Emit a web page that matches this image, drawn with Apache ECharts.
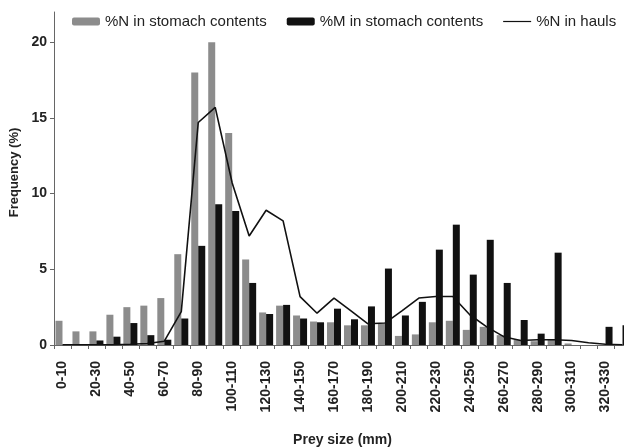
<!DOCTYPE html>
<html>
<head>
<meta charset="utf-8">
<script src="https://cdn.jsdelivr.net/npm/echarts@6/dist/echarts.min.js"></script>
<style>
    html, body { margin: 0; padding: 0; background: #fff; }
    #chart { width: 624px; height: 448px; }
</style>
</head>
<body>
<div id="chart"></div>
<script>
// prey size classes
let sizeClasses = ['0-10', '10-20', '20-30', '30-40', '40-50', '50-60', '60-70', '70-80', '80-90', '90-100',
    '100-110', '110-120', '120-130', '130-140', '140-150', '150-160', '160-170', '170-180', '180-190', '190-200',
    '200-210', '210-220', '220-230', '230-240', '240-250', '250-260', '260-270', '270-280', '280-290', '290-300',
    '300-310', '310-320', '320-330', '330-340']

// %N in stomach contents
let nStomach = [1.6, 0.9, 0.9, 2.0, 2.5, 2.6, 3.1, 6.0, 18.0, 20.0,
    14.0, 5.65, 2.15, 2.6, 1.95, 1.55, 1.5, 1.3, 1.3, 1.4,
    0.6, 0.7, 1.5, 1.6, 1.0, 1.2, 0.65, 0.35, 0.25, 0.35,
    0.1, 0, 0, 0]

// %M in stomach contents
let mStomach = [0, 0, 0.3, 0.55, 1.45, 0.65, 0.35, 1.75, 6.55, 9.3,
    8.85, 4.1, 2.05, 2.65, 1.75, 1.5, 2.4, 1.7, 2.55, 5.05,
    1.95, 2.85, 6.3, 7.95, 4.65, 6.95, 4.1, 1.65, 0.75, 6.1,
    0, 0, 1.2, 1.3]

// %N in hauls
let nHauls = [0.02, 0.02, 0.02, 0.02, 0.05, 0.1, 0.25, 2.2, 14.7, 15.7,
    10.7, 7.2, 8.9, 8.2, 3.2, 2.1, 3.1, 2.25, 1.4, 1.45,
    2.25, 3.1, 3.2, 3.2, 2.0, 1.2, 0.55, 0.3, 0.35, 0.35,
    0.3, 0.15, 0.05, 0.02]

let yTicks = [0, 5, 10, 15, 20]

let font = 'Liberation Sans, Arial, sans-serif'
// thin horizontal line for the legend (moveTo corners keep the 28x8 box)
let lineIcon = 'path://M0,0 M0,3.4 H28 V4.6 H0 Z M28,8'

let myChart = echarts.init(document.getElementById('chart'))
let option = {
    animation: false,
    textStyle: { fontFamily: font },
    legend: {
        left: 67,
        top: 9,
        itemWidth: 28,
        itemHeight: 8,
        itemGap: 20,
        textStyle: { fontSize: 15, color: '#222', fontFamily: font },
        data: [
            { name: '%N in stomach contents' },
            { name: '%M in stomach contents' },
            { name: '%N in hauls', icon: lineIcon }
        ]
    },
    grid: {
        left: 54,
        right: -7,
        top: 12,
        bottom: 103,
        outerBoundsMode: 'none'
    },
    xAxis: {
        type: 'category',
        data: sizeClasses,
        name: 'Prey size (mm)',
        nameLocation: 'middle',
        nameGap: 88,
        nameMoveOverlap: false,
        nameTextStyle: { fontSize: 14, fontWeight: 'bold', color: '#222' },
        axisLine: { lineStyle: { color: '#666', width: 1 } },
        axisTick: { show: true, interval: 0, length: 4, lineStyle: { color: '#666' } },
        axisLabel: {
            interval: 1,
            rotate: 90,
            margin: 16,
            fontSize: 14,
            fontWeight: 'bold',
            color: '#222'
        }
    },
    yAxis: {
        type: 'value',
        min: 0,
        max: 22,
        interval: 5,
        name: 'Frequency (%)',
        nameLocation: 'middle',
        nameGap: 33,
        nameMoveOverlap: false,
        nameTextStyle: { fontSize: 13, fontWeight: 'bold', color: '#222', padding: [0, 0, 0, 12] },
        splitLine: { show: false },
        axisLine: { show: true, lineStyle: { color: '#666', width: 1 } },
        axisTick: { show: true, length: 4, customValues: yTicks, lineStyle: { color: '#666' } },
        axisLabel: {
            margin: 7,
            fontSize: 14,
            fontWeight: 'bold',
            color: '#222',
            customValues: yTicks
        }
    },
    series: [
        {
            name: '%N in stomach contents',
            type: 'bar',
            barWidth: 7,
            barGap: '0%',
            itemStyle: { color: '#8c8c8c' },
            data: nStomach
        },
        {
            name: '%M in stomach contents',
            type: 'bar',
            barWidth: 7,
            barGap: '0%',
            itemStyle: { color: '#111' },
            data: mStomach
        },
        {
            name: '%N in hauls',
            type: 'line',
            symbol: 'none',
            lineStyle: { color: '#111', width: 1.6 },
            itemStyle: { color: '#111' },
            data: nHauls
        }
    ]
}
myChart.setOption(option)
</script>
</body>
</html>
